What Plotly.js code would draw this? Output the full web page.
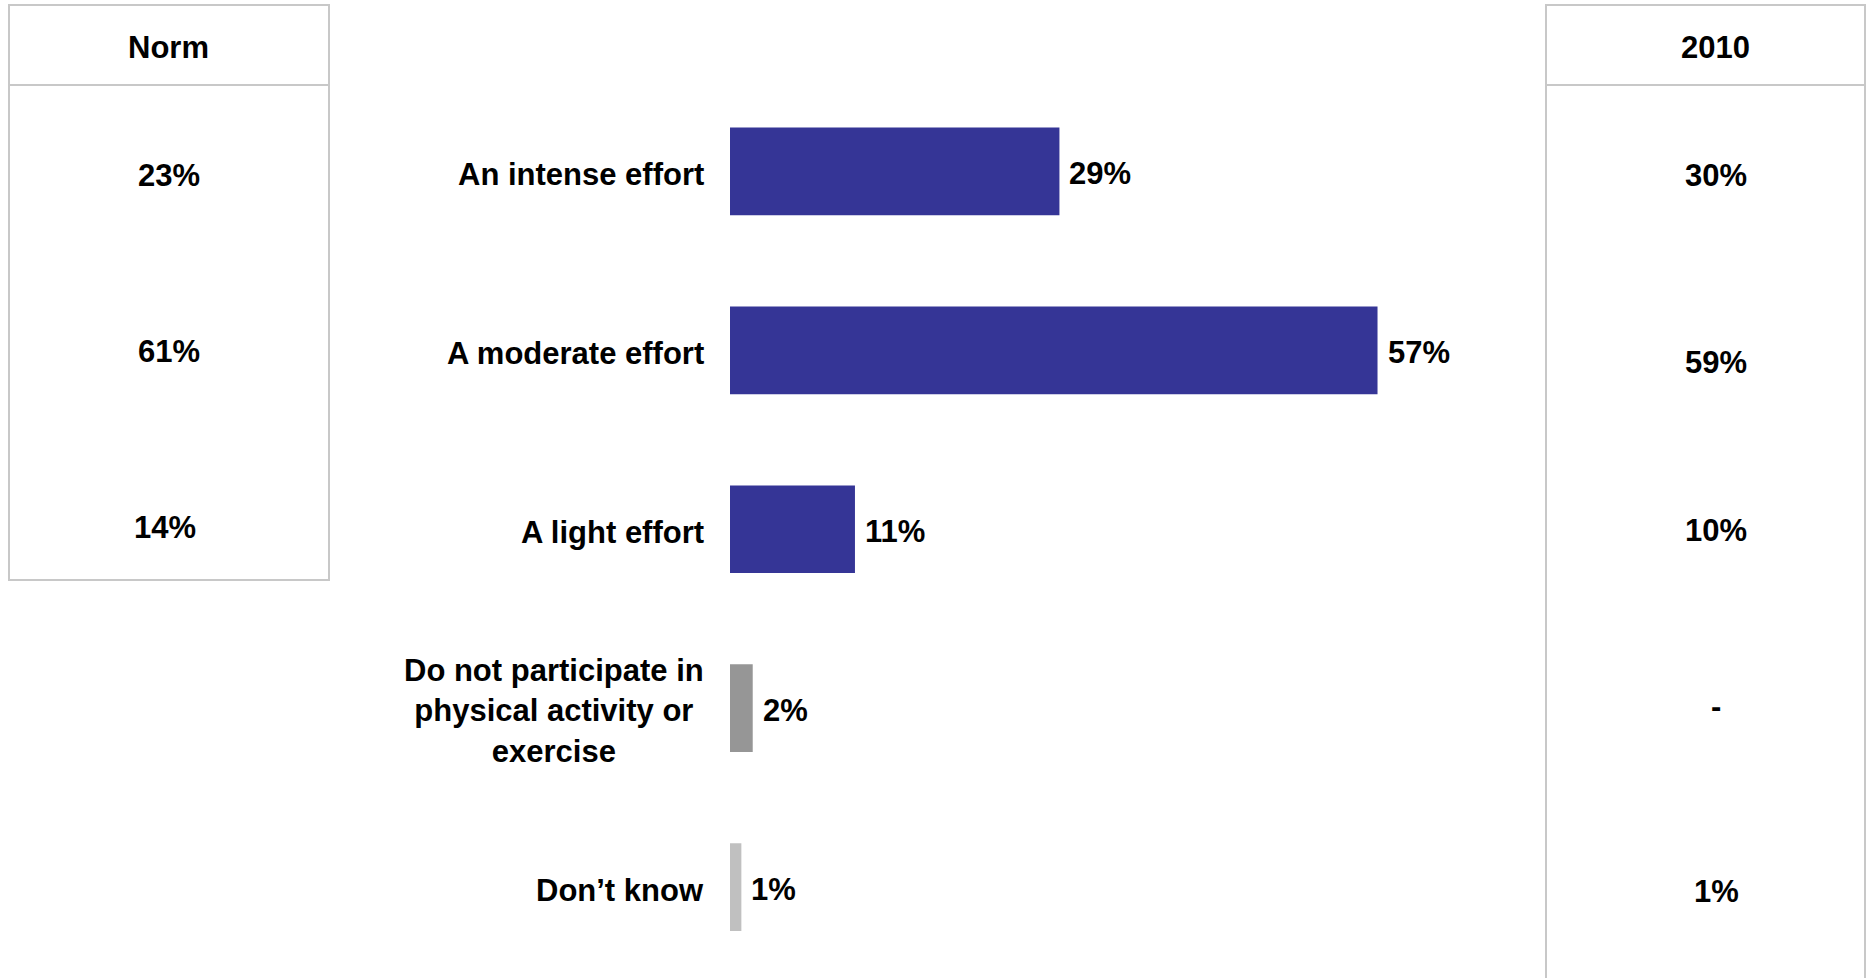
<!DOCTYPE html>
<html>
<head>
<meta charset="utf-8">
<script src="https://cdn.plot.ly/plotly-3.0.1.min.js"></script>
<style>
html,body{margin:0;padding:0;background:#fff;}
#chart{width:1867px;height:978px;}
</style>
</head>
<body>
<div id="chart"></div>
<script>
// ---- data ----
const categories = [
  'An intense effort',
  'A moderate effort',
  'A light effort',
  'Do not participate in<br>physical activity or<br>exercise',
  'Don\u2019t know'
];
const values = [29, 57, 11, 2, 1];
const normCategories = ['An intense effort', 'A moderate effort', 'A light effort'];
const normValues = [23, 61, 14];
const values2010 = [30, 59, 10, null, 1];
const normHeader = 'Norm';
const header2010 = '2010';

// ---- style ----
const W = 1867, H = 978;
const barColors = ['#353596', '#353596', '#353596', '#969696', '#c0c0c0'];
const FONT = {family: '"Liberation Sans", Arial, Helvetica, sans-serif', size: 31, color: '#000000', weight: 'bold'};
const px = x => x / W;
const py = y => 1 - y / H;
const boxLine = {color: '#c8c8c8', width: 2};
const normYShift = [-4, -1, 2];
const col2010YShift = [-4, -12, -1, 2, -4];
const normXShift = [0, 0, -4];

const pct = v => (v === null || v === undefined) ? '-' : v + '%';

const trace = {
  type: 'bar',
  orientation: 'h',
  x: values,
  y: categories,
  marker: {color: barColors, line: {width: 0}},
  hoverinfo: 'skip',
  showlegend: false
};

const annotations = [];
// category labels
categories.forEach((c, i) => {
  annotations.push({
    xref: 'x', yref: 'y', x: 0, y: c,
    xanchor: 'right', yanchor: 'middle', xshift: -24, yshift: -3,
    text: c, showarrow: false, align: 'center', font: FONT
  });
});
// value labels
categories.forEach((c, i) => {
  annotations.push({
    xref: 'x', yref: 'y', x: values[i], y: c,
    xanchor: 'left', yanchor: 'middle', xshift: 8, yshift: -2,
    text: pct(values[i]), showarrow: false, font: FONT
  });
});
// Norm column
annotations.push({xref: 'paper', yref: 'paper', x: px(168), y: py(47), xanchor: 'center', yanchor: 'middle',
  text: normHeader, showarrow: false, font: FONT});
normCategories.forEach((c, i) => {
  annotations.push({xref: 'paper', yref: 'y', x: px(169), y: c, xanchor: 'center', yanchor: 'middle',
    xshift: normXShift[i], yshift: normYShift[i],
    text: pct(normValues[i]), showarrow: false, font: FONT});
});
// 2010 column
annotations.push({xref: 'paper', yref: 'paper', x: px(1715), y: py(47), xanchor: 'center', yanchor: 'middle',
  text: header2010, showarrow: false, font: FONT});
categories.forEach((c, i) => {
  annotations.push({xref: 'paper', yref: 'y', x: px(1716), y: c, xanchor: 'center', yanchor: 'middle',
    yshift: col2010YShift[i],
    text: pct(values2010[i]), showarrow: false, font: FONT});
});

const shapes = [
  // Norm box
  {type: 'rect', xref: 'paper', yref: 'paper', x0: px(9), x1: px(329), y0: py(580), y1: py(5), line: boxLine, fillcolor: 'rgba(0,0,0,0)', layer: 'below'},
  {type: 'line', xref: 'paper', yref: 'paper', x0: px(9), x1: px(329), y0: py(85), y1: py(85), line: boxLine},
  // 2010 box
  {type: 'rect', xref: 'paper', yref: 'paper', x0: px(1546), x1: px(1865), y0: py(990), y1: py(5), line: boxLine, fillcolor: 'rgba(0,0,0,0)', layer: 'below'},
  {type: 'line', xref: 'paper', yref: 'paper', x0: px(1546), x1: px(1865), y0: py(85), y1: py(85), line: boxLine}
];

const layout = {
  width: W, height: H,
  margin: {l: 0, r: 0, t: 0, b: 0, pad: 0},
  paper_bgcolor: '#ffffff', plot_bgcolor: '#ffffff',
  bargap: 0.51,
  font: FONT,
  xaxis: {
    domain: [px(730), px(1530)],
    range: [0, 800 / 11.36],
    visible: false, fixedrange: true
  },
  yaxis: {
    domain: [py(976.5), py(82)],
    type: 'category',
    categoryorder: 'array', categoryarray: categories,
    autorange: 'reversed',
    showticklabels: false, showgrid: false, zeroline: false, showline: false, ticks: '',
    fixedrange: true
  },
  annotations: annotations,
  shapes: shapes,
  showlegend: false
};

Plotly.newPlot('chart', [trace], layout, {displayModeBar: false, staticPlot: true});
</script>
</body>
</html>
